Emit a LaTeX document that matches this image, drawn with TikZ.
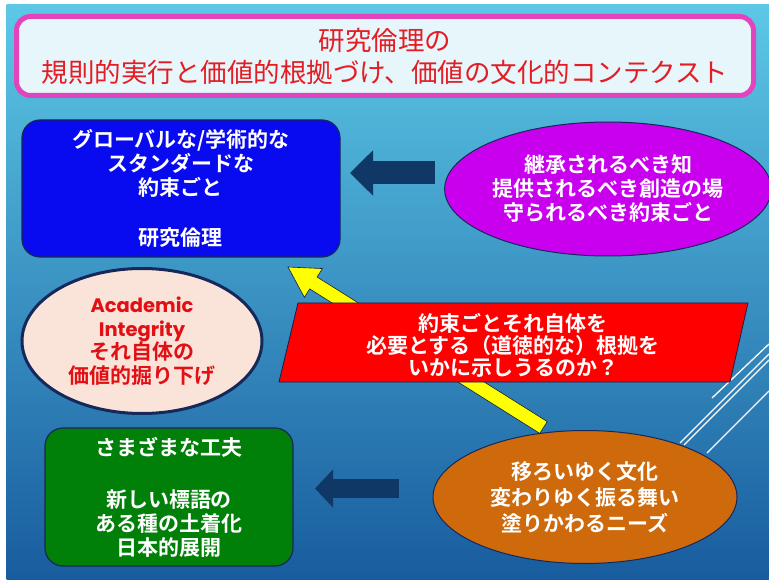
\documentclass[tikz,border=0pt]{standalone}
\usepackage{fontspec}
\setmainfont{Noto Sans CJK JP}[BoldFont={Noto Sans CJK JP Bold}]
\newfontfamily\geo{Poppins}[BoldFont={Poppins Bold}]
\usetikzlibrary{shapes.geometric,arrows.meta,calc}
\definecolor{bgtop}{RGB}{92,200,230}
\definecolor{bgbot}{RGB}{24,92,158}
\definecolor{titlered}{RGB}{228,28,36}
\definecolor{titlepink}{RGB}{226,68,190}
\definecolor{titlefill}{RGB}{230,246,251}
\definecolor{boxblue}{RGB}{8,10,240}
\definecolor{navy}{RGB}{22,40,90}
\definecolor{arrownavy}{RGB}{16,56,102}
\definecolor{purp}{RGB}{200,0,238}
\definecolor{peach}{RGB}{250,228,218}
\definecolor{txtred}{RGB}{226,16,20}
\definecolor{redpar}{RGB}{255,0,0}
\definecolor{grn}{RGB}{0,128,8}
\definecolor{orng}{RGB}{206,106,12}
\definecolor{yel}{RGB}{255,255,0}
\begin{document}
\begin{tikzpicture}[x=1pt,y=-1pt,
  bodytext/.style={text=white, font=\bfseries\fontsize{21}{24}\selectfont, align=center},
  roundbox/.style={draw=navy, line width=1.2pt, rounded corners=18pt, inner sep=0pt},
  oval/.style={ellipse, draw=navy, line width=1pt, inner sep=0pt},
  navyarrow/.style={draw=arrownavy},
  deco/.style={white, line width=1.3pt}
]
\useasboundingbox (0,0) rectangle (769,580);
\fill[white] (0,0) rectangle (769,580);
\shade[top color=bgtop, bottom color=bgbot] (6.5,5) rectangle (769,580);

% decorative white lines
\draw[deco] (712,398) -- (769,344);
\draw[deco] (680,443) -- (769,354);
\draw[deco] (684,445) -- (769,360);
\draw[deco] (707,453) -- (769,391);

% title
\node[draw=titlepink, line width=5pt, fill=titlefill, rounded corners=14pt,
      minimum width=737pt, minimum height=79pt, inner sep=0pt, text=titlered,
      align=center, font=\fontsize{26.5}{32}\selectfont] (title) at (385,56)
  {研究倫理の\\規則的実行と価値的根拠づけ、価値の文化的コンテクスト};

% yellow arrow
\coordinate (ys) at (543.5,427.5);
\coordinate (yt) at (288,267);
\coordinate (yh) at ($(yt)!30pt!(ys)$);
\filldraw[fill=yel, draw=navy!70!black, line width=0.6pt]
  ($(ys)!7pt!90:(yt)$) -- ($(yh)!7pt!90:(yt)$) -- ($(yh)!17pt!90:(yt)$) -- (yt)
  -- ($(yh)!17pt!-90:(yt)$) -- ($(yh)!7pt!-90:(yt)$) -- ($(ys)!7pt!-90:(yt)$) -- cycle;

% blue box
\node[roundbox, fill=boxblue, minimum width=318pt, minimum height=137pt, bodytext] (glob) at (181,188.5)
  {グローバルな/学術的な\\スタンダードな\\約束ごと\\[26pt]研究倫理};

% purple ellipse
\node[oval, fill=purp, minimum width=304pt, minimum height=134pt, bodytext] (chi) at (608,189)
  {継承されるべき知\\提供されるべき創造の場\\守られるべき約束ごと};

% top arrow
\coordinate (a1s) at (435,173);
\coordinate (a1t) at (350,173);
\draw[navyarrow, line width=23pt, -{Triangle[length=23pt,width=44pt]}] (a1s) -- (a1t);

% pink ellipse
\node[ellipse, draw=navy, line width=3pt, fill=peach, minimum width=240pt, minimum height=145pt,
      inner sep=0pt, text=txtred, font=\bfseries\fontsize{21}{23.5}\selectfont, align=center] (acad) at (142,341)
  {{\geo\fontsize{19.5}{23.5}\selectfont Academic}\\{\geo\fontsize{19.5}{23.5}\selectfont Integrity}\\それ自体の\\価値的掘り下げ};

% red parallelogram
\coordinate (p1) at (298,303);
\coordinate (p2) at (748,303);
\coordinate (p3) at (730,382);
\coordinate (p4) at (279,382);
\filldraw[fill=redpar, draw=navy!80!black, line width=0.8pt] (p1) -- (p2) -- (p3) -- (p4) -- cycle;
\node[bodytext, font=\bfseries\fontsize{21}{22}\selectfont] (q) at (513,345)
  {約束ごとそれ自体を\\必要とする（道徳的な）根拠を\\いかに示しうるのか？};

% green box
\node[roundbox, draw=navy, fill=grn, minimum width=248pt, minimum height=138pt, bodytext] (kufu) at (169,497)
  {さまざまな工夫\\[28pt]新しい標語の\\ある種の土着化\\日本的展開};

% bottom arrow
\coordinate (a2s) at (399,488.5);
\coordinate (a2t) at (315,488.5);
\draw[navyarrow, line width=19pt, -{Triangle[length=18pt,width=37pt]}] (a2s) -- (a2t);

% orange ellipse
\node[oval, fill=orng, minimum width=304pt, minimum height=133pt, bodytext,
      font=\bfseries\fontsize{21}{26}\selectfont] (utsu) at (585,497)
  {移ろいゆく文化\\変わりゆく振る舞い\\塗りかわるニーズ};
\end{tikzpicture}
\end{document}
